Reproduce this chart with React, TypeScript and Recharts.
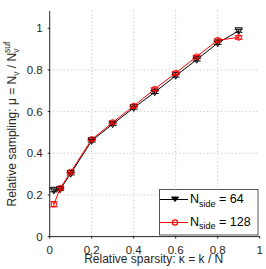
import React from 'react';
import { ComposedChart, Line, XAxis, YAxis, CartesianGrid, ErrorBar } from 'recharts';

const kappa = [0.02, 0.05, 0.1, 0.2, 0.3, 0.4, 0.5, 0.6, 0.7, 0.8, 0.9];
const mu64 = [0.222, 0.227, 0.302, 0.46, 0.54, 0.618, 0.693, 0.772, 0.849, 0.929, 0.988];
const err64 = [0.007, 0.005, 0.006, 0.006, 0.006, 0.006, 0.006, 0.006, 0.006, 0.006, 0.007];
const mu128 = [0.155, 0.232, 0.31, 0.467, 0.548, 0.627, 0.708, 0.785, 0.864, 0.943, 0.956];
const err128 = [0.012, 0.005, 0.006, 0.006, 0.006, 0.006, 0.006, 0.006, 0.006, 0.006, 0.008];
const xTicks = [0, 0.2, 0.4, 0.6, 0.8, 1];
const yTicks = [0, 0.2, 0.4, 0.6, 0.8, 1];
const seriesNames = ['64', '128'];

const data = kappa.map((k, i) => ({ k, a: mu64[i], ea: err64[i], b: mu128[i], eb: err128[i] }));

const FONT = '"Liberation Sans", Arial, Helvetica, sans-serif';
const AX = '#262626';

const LeftTick = (p: any) => (
  <g>
    <text x={p.x - 5} y={p.y} dy="0.35em" textAnchor="end" fontSize={11.5} fill={AX} fontFamily={FONT}>{String(p.payload.value)}</text>
    <line x1={p.x} y1={p.y} x2={p.x + 2.5} y2={p.y} stroke={AX} />
  </g>
);
const RightTick = (p: any) => <line x1={p.x} y1={p.y} x2={p.x - 2.5} y2={p.y} stroke={AX} />;
const BottomTick = (p: any) => (
  <g>
    <text x={p.x} y={p.y + 15} textAnchor="middle" fontSize={11.5} fill={AX} fontFamily={FONT}>{String(p.payload.value)}</text>
    <line x1={p.x} y1={p.y} x2={p.x} y2={p.y - 2.5} stroke={AX} />
  </g>
);
const TopTick = (p: any) => <line x1={p.x} y1={p.y} x2={p.x} y2={p.y + 2.5} stroke={AX} />;

const TriDot = (p: any) => {
  const { cx, cy } = p;
  if (cx == null || cy == null) return <g key={p.index} />;
  return <path key={p.index} d={`M${cx - 3.5},${cy - 3}L${cx + 3.5},${cy - 3}L${cx},${cy + 3.5}Z`} fill="none" stroke="#000" strokeWidth={1} />;
};
const CircDot = (p: any) => {
  const { cx, cy } = p;
  if (cx == null || cy == null) return <g key={p.index} />;
  return <circle key={p.index} cx={cx} cy={cy} r={2.8} fill="none" stroke="#ff0000" strokeWidth={1} />;
};

const XLabel = (p: any) => {
  const vb = p.viewBox;
  return (
    <text x={vb.x + vb.width / 2 - 1} y={263} textAnchor="middle" fontSize={12} fill={AX} fontFamily={FONT}>
      Relative sparsity: κ = k / N
    </text>
  );
};
const YLabel = () => {
  const cx = 15.7;
  const cy = 124;
  return (
    <text x={cx} y={cy} transform={`rotate(-90, ${cx}, ${cy})`} textAnchor="middle" fontSize={12} fill={AX} fontFamily={FONT}>
      Relative sampling: μ = N
      <tspan fontSize={8.5} dy={3.3}>v</tspan>
      <tspan dy={-3.3}> / N</tspan>
      <tspan fontSize={8.5} dy={3.3}>v</tspan>
      <tspan fontSize={8.5} dx={-4.3} dy={-9}>suf</tspan>
    </text>
  );
};

export default function App() {
  return (
    <div style={{ position: 'absolute', left: 0, top: 0, width: 266, height: 269, background: '#fff' }}>
      <ComposedChart width={266} height={269} data={data} margin={{ top: 11, right: 6.3, bottom: 0, left: 0 }}>
        <CartesianGrid stroke="#bdbdbd" strokeDasharray="1 2.5" horizontalValues={yTicks.slice(1, -1)} verticalValues={xTicks.slice(1, -1)} />
        <XAxis dataKey="k" type="number" domain={[0, 1]} ticks={xTicks} allowDataOverflow height={32.4}
          tickSize={0} tickLine={false} tick={<BottomTick />} stroke={AX} label={<XLabel />} />
        <XAxis xAxisId="t" type="number" orientation="top" domain={[0, 1]} ticks={xTicks} allowDataOverflow height={0}
          tickSize={0} tickLine={false} tick={<TopTick />} stroke={AX} />
        <YAxis type="number" domain={[0, 1.083]} ticks={yTicks} allowDataOverflow width={49.7}
          tickSize={0} tickLine={false} tick={<LeftTick />} stroke={AX} label={<YLabel />} />
        <YAxis yAxisId="r" type="number" orientation="right" domain={[0, 1.083]} ticks={yTicks} allowDataOverflow width={0}
          tickSize={0} tickLine={false} tick={<RightTick />} stroke={AX} />
        <Line dataKey="a" name={seriesNames[0]} stroke="#000" strokeWidth={1} dot={TriDot} isAnimationActive={false}>
          <ErrorBar dataKey="ea" direction="y" width={4} stroke="#000" strokeWidth={1} />
        </Line>
        <Line dataKey="b" name={seriesNames[1]} stroke="#ff0000" strokeWidth={1} dot={CircDot} isAnimationActive={false}>
          <ErrorBar dataKey="eb" direction="y" width={4} stroke="#ff0000" strokeWidth={1} />
        </Line>
      </ComposedChart>
      <svg width={266} height={269} style={{ position: 'absolute', left: 0, top: 0, pointerEvents: 'none' }}>
        <rect x={159.5} y={189.5} width={98.5} height={45.5} fill="#fff" stroke="#555" strokeWidth={1} />
        <line x1={160} y1={199.5} x2={188} y2={199.5} stroke="#000" />
        <path d="M171.5,197L178.5,197L175,201.5Z" fill="#000" stroke="#000" />
        <text x={190} y={203} fontSize={12.5} fill="#000" fontFamily={FONT}>
          N<tspan fontSize={9} dy={3.5}>side</tspan><tspan dy={-3.5}> = {seriesNames[0]}</tspan>
        </text>
        <line x1={160} y1={222.5} x2={188} y2={222.5} stroke="#ff0000" />
        <circle cx={175} cy={222.5} r={2.6} fill="none" stroke="#ff0000" strokeWidth={1.2} />
        <text x={190} y={225.5} fontSize={12.5} fill="#000" fontFamily={FONT}>
          N<tspan fontSize={9} dy={3.5}>side</tspan><tspan dy={-3.5}> = {seriesNames[1]}</tspan>
        </text>
      </svg>
    </div>
  );
}
